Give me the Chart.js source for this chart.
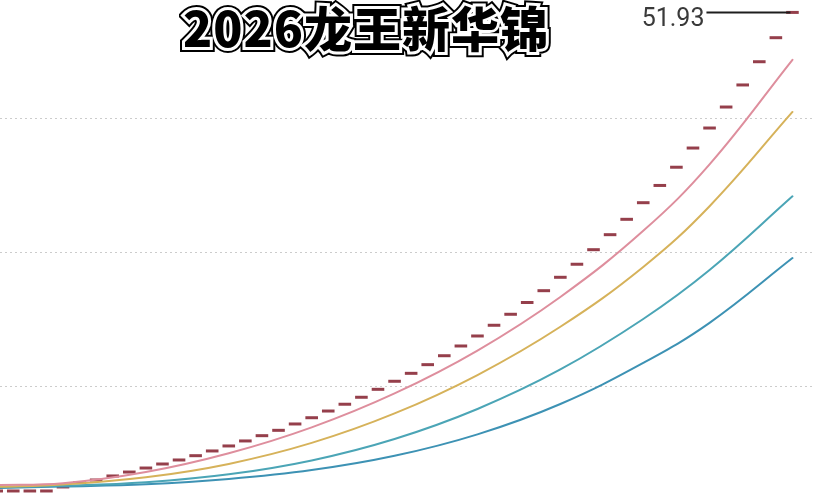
<!DOCTYPE html>
<html>
<head>
<meta charset="utf-8">
<script src="https://cdn.jsdelivr.net/npm/chart.js@4/dist/chart.umd.min.js"></script>
<style>
  html, body { margin: 0; padding: 0; background: #ffffff; }
  #wrap { position: relative; width: 814px; height: 500px; overflow: hidden; background: #ffffff; }
  #c { position: absolute; left: 0; top: 0; }
  .title {
    position: absolute; left: 183px; top: -2px;
    font-family: "Noto Sans CJK SC", "Noto Sans", sans-serif;
    font-weight: 900; font-size: 48px; line-height: 56px;
    letter-spacing: 1px; white-space: nowrap;
  }
  .t1 { color: #000; -webkit-text-stroke: 10px #000; }
  .t2 { color: #fff; -webkit-text-stroke: 6px #fff; }
  .t3 { color: #000; }
</style>
</head>
<body>
<div id="wrap">
  <canvas id="c" width="814" height="500"></canvas>
  <div class="title t1">2026龙王新华锦</div>
  <div class="title t2">2026龙王新华锦</div>
  <div class="title t3">2026龙王新华锦</div>
</div>
<script>
// ---- data ----
const dayIndex = [-1,0,1,2,3,4,5,6,7,8,9,10,11,12,13,14,15,16,17,18,19,20,21,22,23,24,25,26,27,28,29,30,31,32,33,34,35,36,37,38,39,40,41,42,43,44,45,46,47];
const dashValues = [-1.64,-1.64,-1.64,-1.64,-1.19,-0.71,-0.41,0.04,0.48,0.93,1.38,1.83,2.31,2.84,3.40,3.96,4.55,5.15,5.86,6.56,7.31,8.07,8.85,9.74,10.64,11.53,12.50,13.50,14.59,15.71,16.91,18.14,19.46,20.78,22.28,23.74,25.37,27.05,28.77,30.63,32.56,34.60,36.75,38.99,41.34,43.81,46.41,49.10,51.93];
const curveDays = [-1,3,8,13,18,23,28,33,38,42,47];
const pinkValues = [-0.97,-0.77,0.48,2.58,5.48,9.28,14.08,20.08,27.48,34.92,46.62];
const goldValues = [-1.19,-0.91,-0.11,1.39,3.74,7.04,11.34,16.74,23.44,30.24,40.79];
const tealValues = [-1.19,-1.05,-0.66,0.22,1.78,4.18,7.54,11.96,17.61,23.09,31.34];
const blueValues = [-1.31,-1.15,-0.90,-0.30,0.70,2.30,4.70,8.10,12.70,17.18,24.43];
const gridValues = [10, 25, 40];
const finalLabel = "51.93";

function pts(xs, ys) { return xs.map((x, i) => ({ x: x, y: ys[i] })); }

const lineStyle = (color, data) => ({
  data: data,
  borderColor: color,
  borderWidth: 2,
  pointRadius: 0,
  fill: false,
  tension: 0.4,
  borderCapStyle: 'round'
});

const labelPlugin = {
  id: 'finalLabel',
  afterDatasetsDraw(chart) {
    const meta = chart.getDatasetMeta(4);
    const p = meta.data[meta.data.length - 1];
    const ctx = chart.ctx;
    ctx.save();
    ctx.strokeStyle = '#1e1e1e';
    ctx.lineWidth = 2;
    ctx.beginPath();
    ctx.moveTo(p.x - 86, p.y);
    ctx.lineTo(p.x - 2, p.y);
    ctx.stroke();
    ctx.fillStyle = '#3a3a3a';
    ctx.font = '25px Roboto, "Noto Sans", sans-serif';
    ctx.textAlign = 'right';
    ctx.textBaseline = 'alphabetic';
    ctx.fillText(finalLabel, p.x - 88, p.y + 14);
    ctx.restore();
  }
};

new Chart(document.getElementById('c'), {
  type: 'line',
  data: {
    datasets: [
      lineStyle('#de8e9d', pts(curveDays, pinkValues)),
      lineStyle('#d6b25a', pts(curveDays, goldValues)),
      lineStyle('#4ba5b6', pts(curveDays, tealValues)),
      lineStyle('#3d92b4', pts(curveDays, blueValues)),
      {
        data: pts(dayIndex, dashValues),
        showLine: false,
        pointStyle: 'line',
        pointRadius: 6.3,
        pointBorderWidth: 3,
        pointBorderColor: '#953f4b',
        pointBackgroundColor: '#953f4b'
      }
    ]
  },
  options: {
    responsive: false,
    animation: false,
    devicePixelRatio: 1,
    layout: { padding: 0, autoPadding: false },
    plugins: { legend: { display: false }, tooltip: { enabled: false }, title: { display: false } },
    scales: {
      x: { type: 'linear', min: -0.8, max: 48.3, display: false },
      y: {
        type: 'linear', min: -2.65, max: 53.32,
        afterBuildTicks(axis) { axis.ticks = gridValues.map(v => ({ value: v })); },
        ticks: { display: false },
        grid: { color: '#cccccc', lineWidth: 1, drawTicks: false },
        border: { display: false, dash: [2, 3] }
      }
    }
  },
  plugins: [labelPlugin]
});
</script>
</body>
</html>
